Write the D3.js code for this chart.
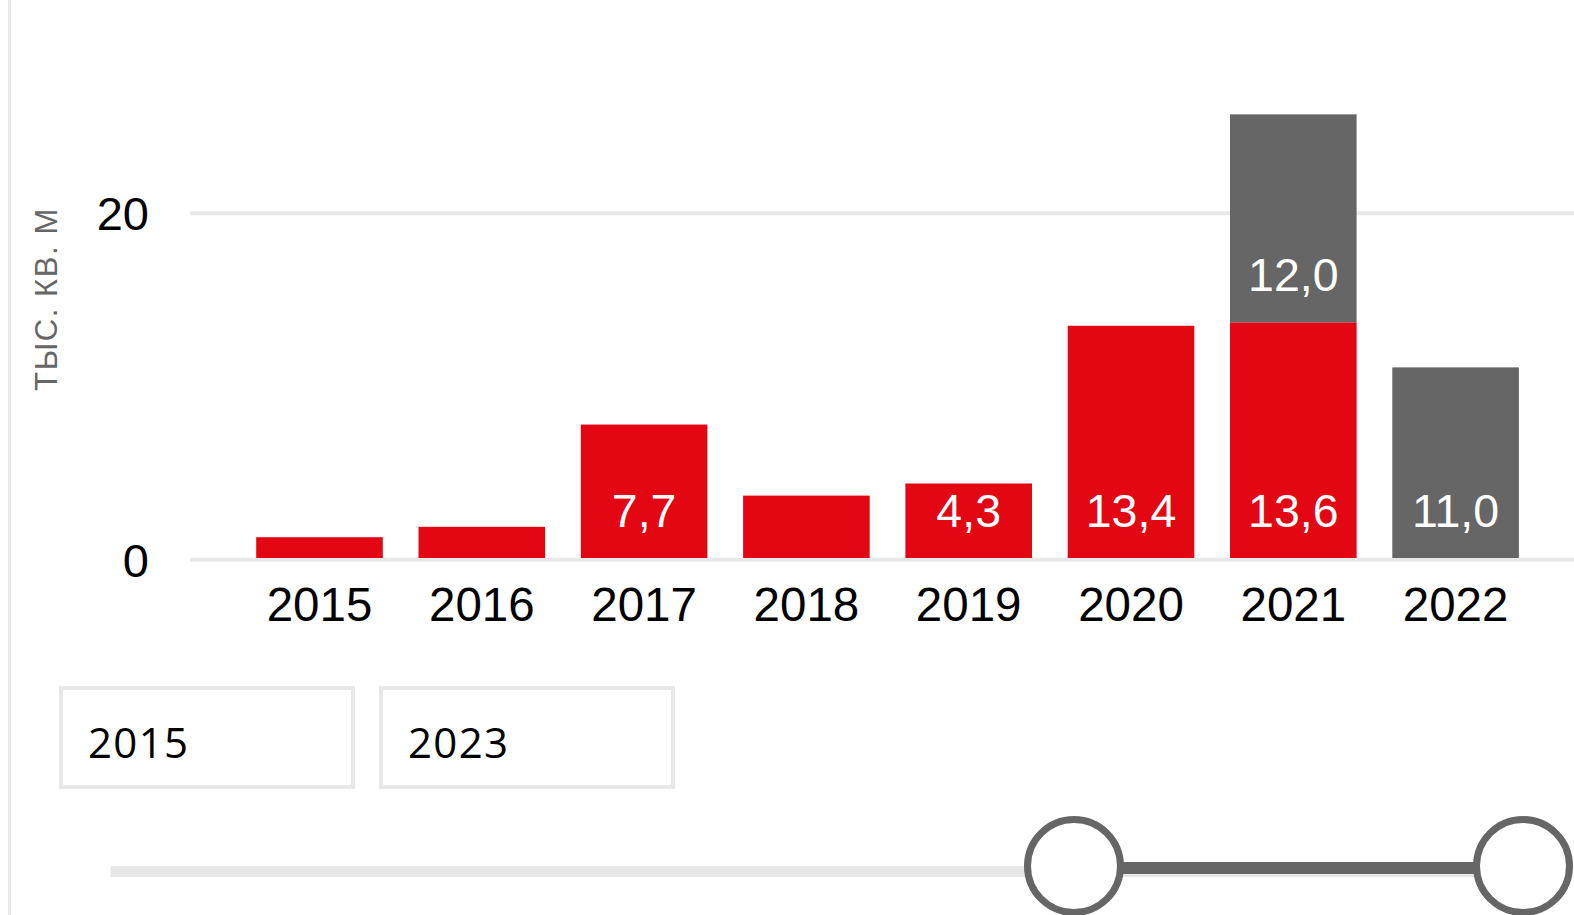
<!DOCTYPE html>
<html><head><meta charset="utf-8">
<script src="https://cdn.jsdelivr.net/npm/d3@7"></script>
<style>
html,body{margin:0;padding:0;background:#fff;overflow:hidden}
svg{display:block}
</style></head>
<body>
<svg id="c" width="1574" height="915"></svg>
<script>
const years = ["2015","2016","2017","2018","2019","2020","2021","2022"];
const builtValues = [1.2, 1.8, 7.7, 3.6, 4.3, 13.4, 13.6, 0];
const plannedValues = [0, 0, 0, 0, 0, 0, 12.0, 11.0];
const yTicks = [0, 20];
const yTitle = "ТЫС. КВ. М";
const rangeFrom = "2015";
const rangeTo = "2023";
const sliderLow = 2020.5;
const sliderHigh = 2023;

const RED = "#e30613", GRAY = "#666666", LIGHT = "#e8e8e8";
const FONT = "Liberation Sans, Arial, sans-serif";
const svg = d3.select("#c");

// left border
svg.append("rect").attr("x", 8).attr("y", 0).attr("width", 3).attr("height", 915).attr("fill", LIGHT);

const x = d3.scaleBand().domain(years).range([238.35, 1536.75]).paddingInner(0.22).paddingOuter(0.11);
const y = d3.scaleLinear().domain([0, 20]).range([558, 211.4]);

// gridlines
svg.append("g").selectAll("line").data(yTicks).join("line")
  .attr("x1", 190).attr("x2", 1574)
  .attr("y1", d => y(d) + 1.8).attr("y2", d => y(d) + 1.8)
  .attr("stroke", LIGHT).attr("stroke-width", 4);

// y axis labels
const yAxis = d3.axisLeft(y).tickValues(yTicks).tickSize(0).tickPadding(0).tickFormat(d3.format("d"));
const ya = svg.append("g").attr("transform", "translate(149,1.5)").call(yAxis);
ya.select(".domain").remove();
ya.selectAll("text").attr("font-family", FONT).attr("font-size", 47).attr("fill", "#000").attr("dy", "0.36em");

// y title
svg.append("text").attr("transform", "translate(57,299) rotate(-90)")
  .attr("text-anchor", "middle").attr("font-family", FONT)
  .attr("font-size", 31).attr("letter-spacing", 1.6).attr("fill", "#666").text(yTitle);

// stacked bars
const rows = years.map((yr, i) => ({year: yr, built: builtValues[i], planned: plannedValues[i]}));
const stack = d3.stack().keys(["built", "planned"])(rows);
const colors = {built: RED, planned: GRAY};
const fmt = v => d3.format(".1f")(v).replace(".", ",");

stack.forEach(layer => {
  const g = svg.append("g");
  g.selectAll("rect").data(layer.filter(d => d[1] - d[0] > 0)).join("rect")
    .attr("x", d => x(d.data.year)).attr("width", x.bandwidth())
    .attr("y", d => y(d[1])).attr("height", d => y(d[0]) - y(d[1]))
    .attr("fill", colors[layer.key]);
  g.selectAll("text").data(layer.filter(d => y(d[0]) - y(d[1]) > 70)).join("text")
    .attr("x", d => x(d.data.year) + x.bandwidth() / 2)
    .attr("y", d => y(d[0]) - 31.5)
    .attr("text-anchor", "middle").attr("font-family", FONT)
    .attr("font-size", 46.5).attr("fill", "#fff")
    .text(d => fmt(d[1] - d[0]));
});

// x axis labels
const xAxis = d3.axisBottom(x).tickSize(0).tickPadding(0);
const xa = svg.append("g").attr("transform", "translate(0,621)").call(xAxis);
xa.select(".domain").remove();
xa.selectAll("text").attr("font-family", FONT).attr("font-size", 47.5).attr("fill", "#000").attr("dy", 0);

// range inputs
const boxes = [{x: 61, t: rangeFrom}, {x: 381, t: rangeTo}];
const bg = svg.append("g");
bg.selectAll("rect").data(boxes).join("rect")
  .attr("x", d => d.x).attr("y", 688).attr("width", 292).attr("height", 99)
  .attr("fill", "#fff").attr("stroke", LIGHT).attr("stroke-width", 4);
bg.selectAll("text").data(boxes).join("text")
  .attr("x", d => d.x + 27).attr("y", 758)
  .attr("font-family", "Open Sans, Noto Sans, sans-serif").attr("font-size", 42)
  .attr("fill", "#000").attr("textLength", 100).text(d => d.t);

// slider
const sx = d3.scaleLinear().domain([2015, 2023]).range([110.5, 1523]);
svg.append("rect").attr("x", sx(2015)).attr("y", 866).attr("width", sx(2023) - sx(2015)).attr("height", 11).attr("fill", LIGHT);
svg.append("rect").attr("x", 1074).attr("y", 862).attr("width", sx(sliderHigh) - 1074).attr("height", 12).attr("fill", GRAY);
svg.append("g").selectAll("circle").data([1074, sx(sliderHigh)]).join("circle")
  .attr("cx", d => d).attr("cy", 866).attr("r", 46.5)
  .attr("fill", "#fff").attr("stroke", GRAY).attr("stroke-width", 7);
</script>
</body></html>
